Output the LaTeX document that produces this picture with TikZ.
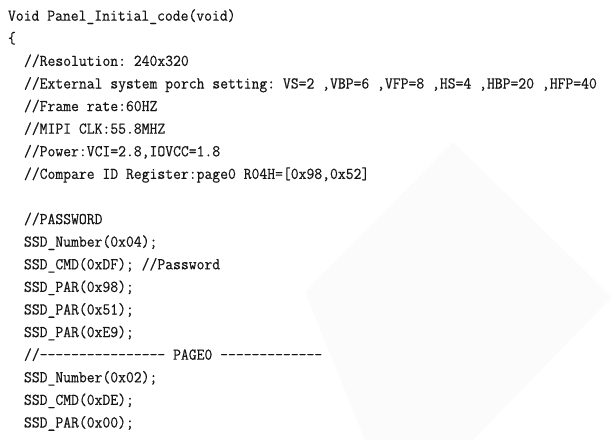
\documentclass[tikz,border=0pt]{standalone}
\usepackage{fontspec}
\newfontfamily\codefont[Ligatures=TeXOff,FakeStretch=0.9235,FakeBold=0.4]{Latin Modern Mono}
\usepackage{tikz}
\usetikzlibrary{positioning}
\definecolor{codeink}{HTML}{151515}
\definecolor{backshade}{HTML}{FBFBFB}

\begin{document}
\begin{tikzpicture}[x=1pt,y=-1pt,
    line/.style={anchor=base west,inner sep=0pt,outer sep=0pt,text=codeink,
      font=\codefont\fontsize{16.5}{17}\selectfont\frenchspacing}]
   \useasboundingbox (0,0) rectangle (615,440);
   % faint backdrop
   \fill[backshade] (305,292) -- (453,142) -- (612,297) -- (473,440) -- (365,440) -- cycle;
   \node[line] (head) at (8,20.7) {Void Panel\_Initial\_code(void)};
   \node[line] (open) at (8,43.3) {\{};
   \node[line] (res) at (24,65.9) {//Resolution: 240x320};
   \node[line] (porch) at (24,88.5) {//External system porch setting: VS=2 ,VBP=6 ,VFP=8 ,HS=4 ,HBP=20 ,HFP=40};
   \node[line] (rate) at (24,111.1) {//Frame rate:60HZ};
   \node[line] (clk) at (24,133.7) {//MIPI CLK:55.8MHZ};
   \node[line] (pwr) at (24,156.3) {//Power:VCI=2.8,IOVCC=1.8};
   \node[line] (cmpid) at (24,178.9) {//Compare ID Register:page0 R04H=[0x98,0x52]};
   % password block
   \node[line] (pwd) at (24,224.1) {//PASSWORD};
   \node[line] (num1) at (24,246.7) {SSD\_Number(0x04);};
   \node[line] (cmd1) at (24,269.3) {SSD\_CMD(0xDF); //Password};
   \node[line] (par1) at (24,291.9) {SSD\_PAR(0x98);};
   \node[line] (par2) at (24,314.5) {SSD\_PAR(0x51);};
   \node[line] (par3) at (24,337.1) {SSD\_PAR(0xE9);};
   % page 0
   \node[line] (page) at (24,359.7) {//---------------- PAGE0 -------------};
   \node[line] (num2) at (24,382.3) {SSD\_Number(0x02);};
   \node[line] (cmd2) at (24,404.9) {SSD\_CMD(0xDE);};
   \node[line] (par4) at (24,427.5) {SSD\_PAR(0x00);};
\end{tikzpicture}
\end{document}
